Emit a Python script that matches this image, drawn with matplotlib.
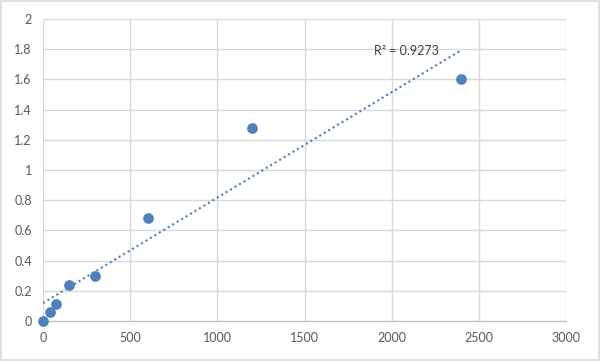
import numpy as np
import matplotlib
matplotlib.use("Agg")
import matplotlib.pyplot as plt

# data
conc = [0, 37.5, 75, 150, 300, 600, 1200, 2400]
od = [0.0, 0.06, 0.115, 0.24, 0.30, 0.68, 1.275, 1.605]
r2_label = "R² = 0.9273"

x_ticks = [0, 500, 1000, 1500, 2000, 2500, 3000]
y_ticks = [0, 0.2, 0.4, 0.6, 0.8, 1, 1.2, 1.4, 1.6, 1.8, 2]

plt.rcParams["font.family"] = ["Lato", "DejaVu Sans"]

fig = plt.figure(figsize=(6, 3.61), dpi=100)
ax = fig.add_axes([43 / 600, 40 / 361, 523 / 600, 302 / 361])

# linear trendline
slope, intercept = np.polyfit(conc, od, 1)
xs = np.array([0, max(conc)])
ax.plot(xs, slope * xs + intercept, linestyle=(0, (1, 1.5)), color="#4a7ebb", linewidth=1.5, zorder=3)

ax.scatter(conc, od, s=45, color="#4f81bd", zorder=4, clip_on=False)

ax.text(1900, 1.79, r2_label, fontsize=9, color="#404040", ha="left", va="center")

ax.set_xlim(0, 3000)
ax.set_ylim(0, 2)
ax.set_xticks(x_ticks)
ax.set_yticks(y_ticks)
ax.set_xticklabels([str(t) for t in x_ticks])
ax.set_yticklabels([("%g" % t) for t in y_ticks])
ax.grid(True, color="#d9d9d9", linewidth=1)
ax.set_axisbelow(True)
for s in ["top", "right", "left"]:
    ax.spines[s].set_visible(False)
ax.spines["bottom"].set_color("#bfbfbf")
ax.tick_params(length=0, labelsize=9, colors="#595959", pad=8)

fig.patches.append(plt.Rectangle((0.002, 0.003), 0.996, 0.994, transform=fig.transFigure,
                                 fill=False, edgecolor="#d9d9d9", linewidth=1.2))

fig.savefig("out.png", dpi=100)
